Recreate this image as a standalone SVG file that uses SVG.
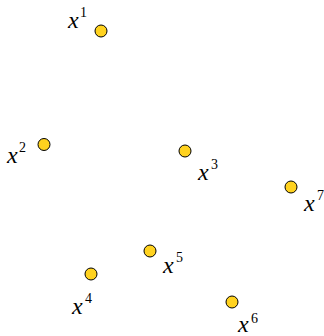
<svg xmlns="http://www.w3.org/2000/svg" width="324" height="336" viewBox="0 0 324 336">
<style>
.pt{fill:#ffd21f;stroke:#000;stroke-width:1}
.v{font-family:"Liberation Serif",serif;font-style:italic;font-size:24px;fill:#000}
.s{font-family:"Liberation Serif",serif;font-size:14px;fill:#000}
</style>
<rect width="324" height="336" fill="#fff"/>
<g id="n1"><circle class="pt" cx="101" cy="31" r="6"/><text class="v" x="68" y="28">x</text><text class="s" x="80" y="17">1</text></g>
<g id="n2"><circle class="pt" cx="44" cy="144.5" r="6"/><text class="v" x="7" y="163">x</text><text class="s" x="19" y="152">2</text></g>
<g id="n3"><circle class="pt" cx="185" cy="151" r="6"/><text class="v" x="198" y="180">x</text><text class="s" x="211" y="169">3</text></g>
<g id="n7"><circle class="pt" cx="291" cy="187" r="6"/><text class="v" x="304" y="211">x</text><text class="s" x="317" y="200">7</text></g>
<g id="n4"><circle class="pt" cx="91" cy="274" r="6"/><text class="v" x="72" y="314">x</text><text class="s" x="85" y="303">4</text></g>
<g id="n5"><circle class="pt" cx="150" cy="251" r="6"/><text class="v" x="163" y="273">x</text><text class="s" x="176" y="262">5</text></g>
<g id="n6"><circle class="pt" cx="232" cy="302" r="6"/><text class="v" x="238" y="332">x</text><text class="s" x="251" y="323">6</text></g>
<g id="connectors"/>
</svg>
